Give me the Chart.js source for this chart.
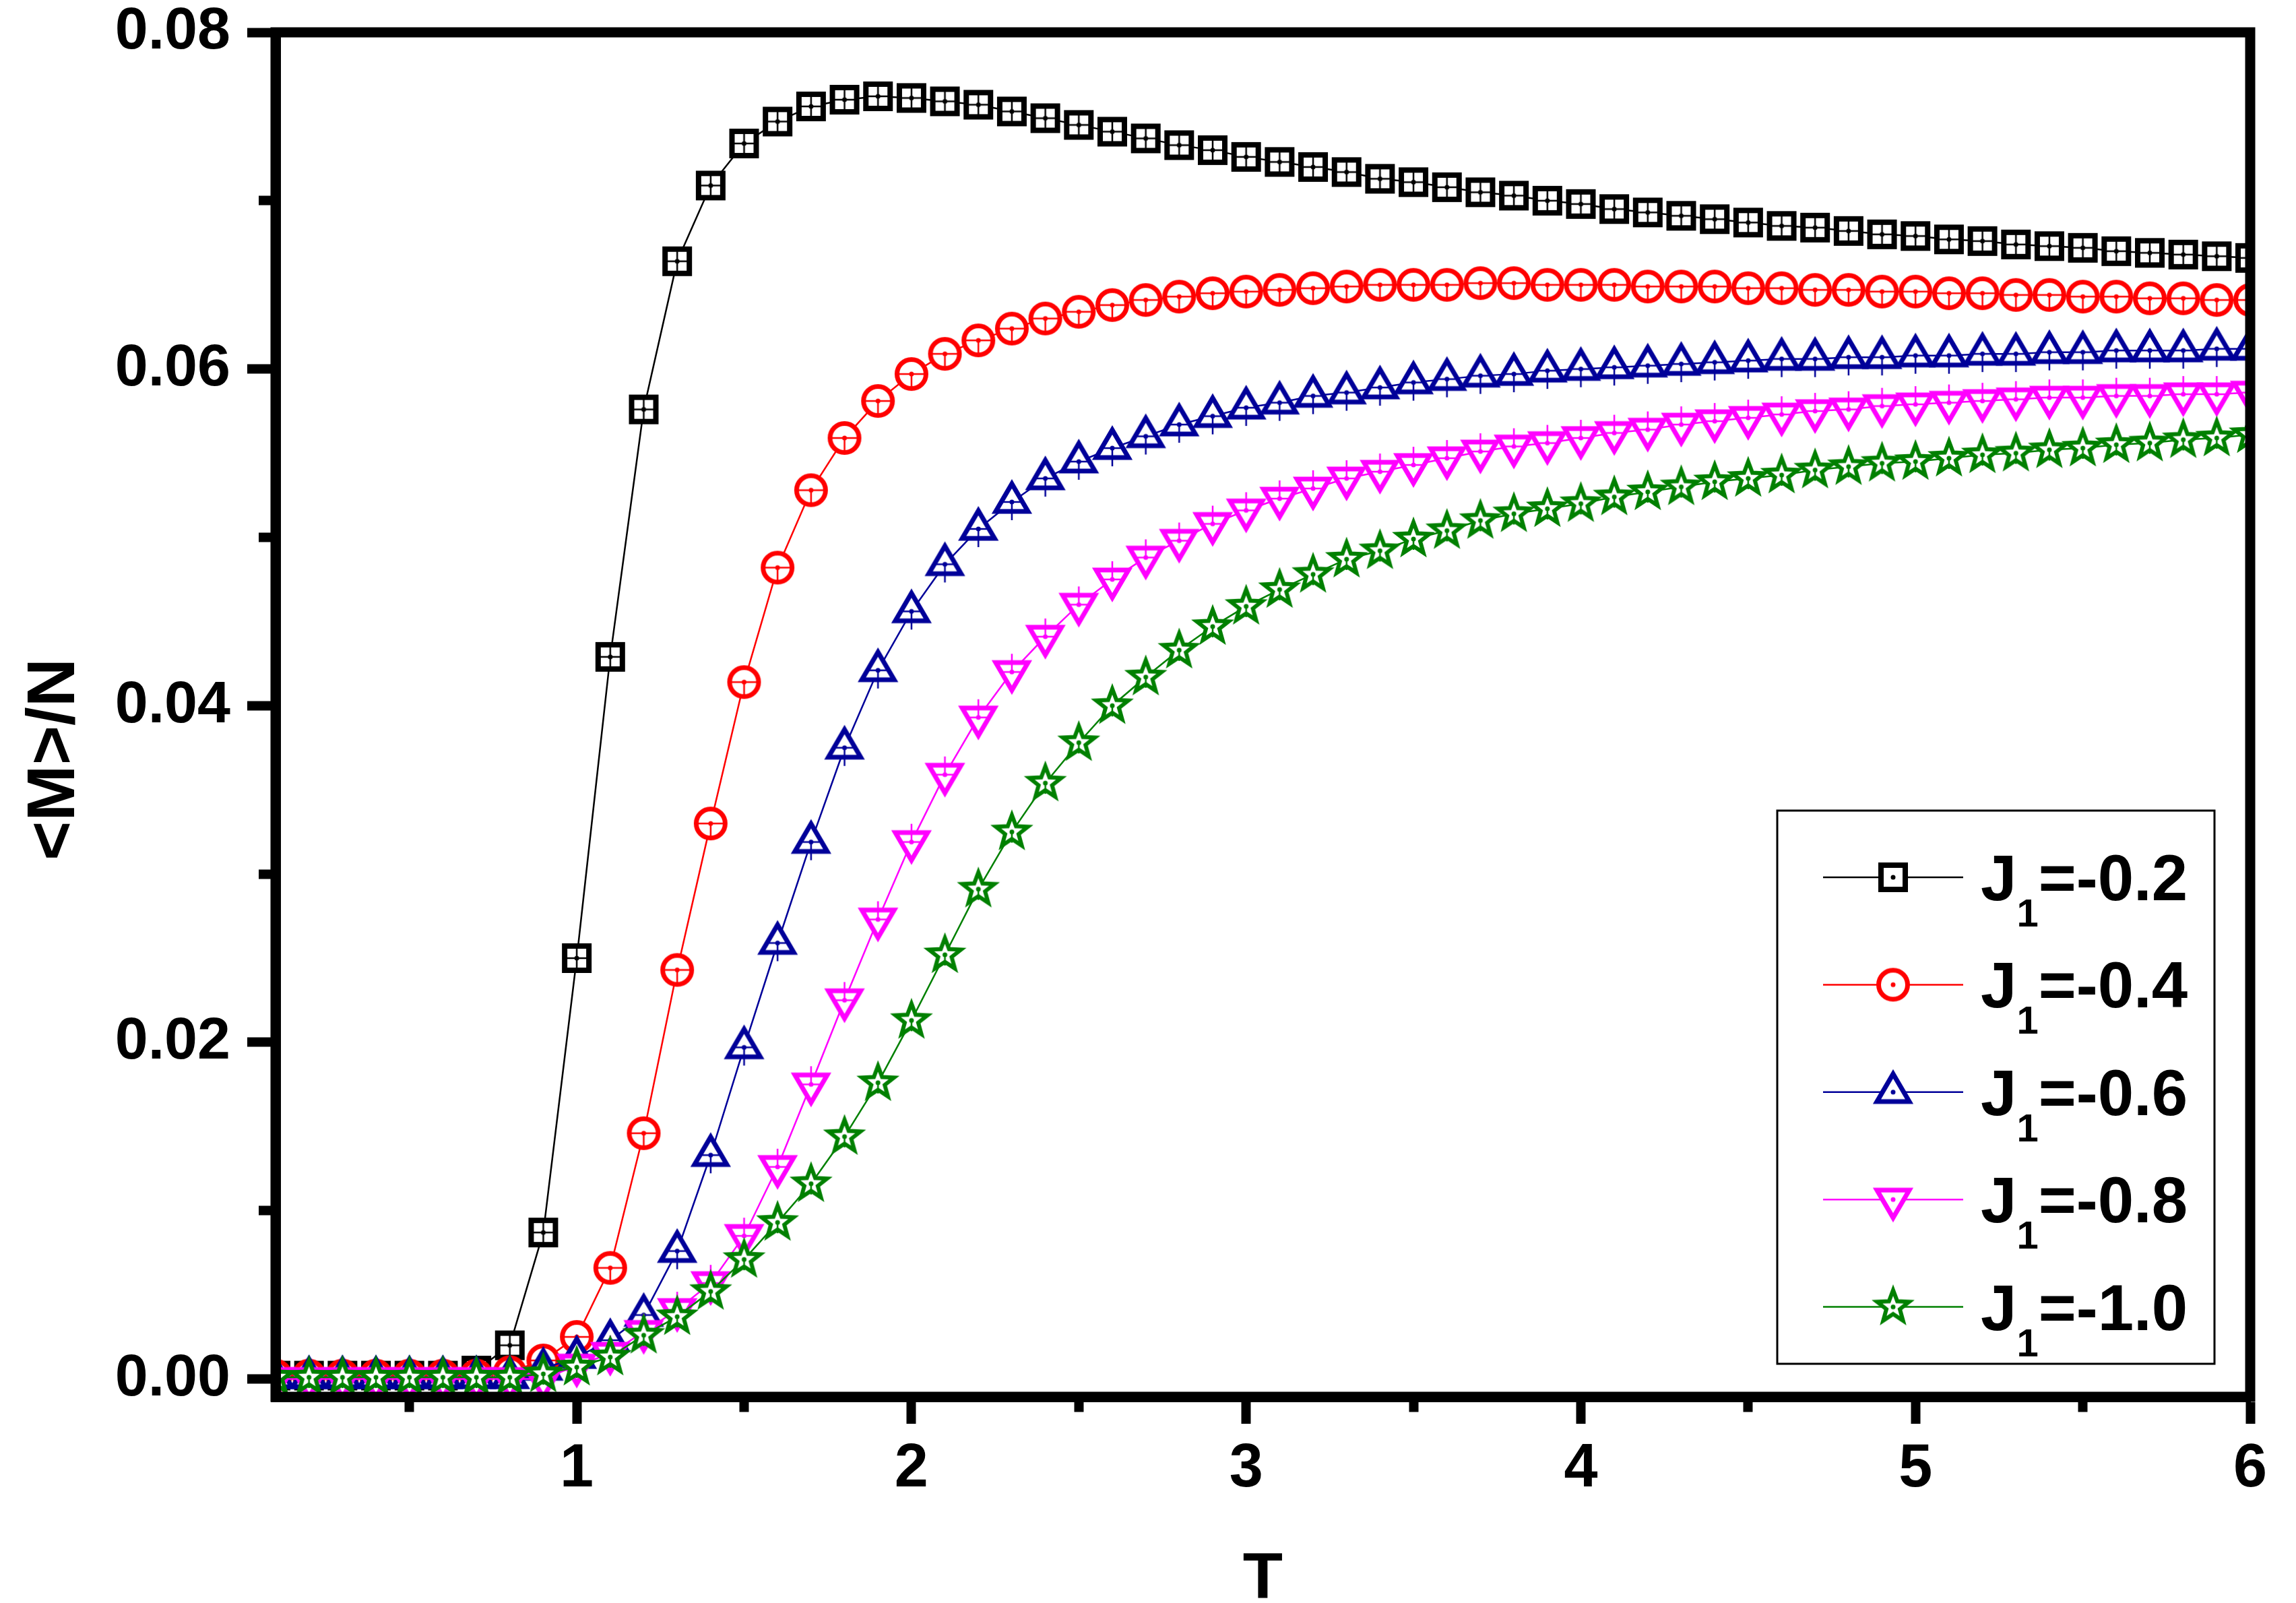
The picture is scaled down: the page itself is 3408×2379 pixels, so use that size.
<!DOCTYPE html>
<html>
<head>
<meta charset="utf-8">
<script src="https://cdn.jsdelivr.net/npm/chart.js@4.4.1/dist/chart.umd.min.js"></script>
<style>
  html, body { margin: 0; padding: 0; background: #fff; }
  #chart { display: block; width: 3408px; height: 2379px; }
</style>
</head>
<body>
<canvas id="chart" width="3408" height="2379"></canvas>
<script>
// Temperature T (x axis)
const temps = [0.1, 0.2, 0.3, 0.4, 0.5, 0.6, 0.7, 0.8, 0.9, 1.0,
    1.1, 1.2, 1.3, 1.4, 1.5, 1.6, 1.7, 1.8, 1.9, 2.0,
    2.1, 2.2, 2.3, 2.4, 2.5, 2.6, 2.7, 2.8, 2.9, 3.0,
    3.1, 3.2, 3.3, 3.4, 3.5, 3.6, 3.7, 3.8, 3.9, 4.0,
    4.1, 4.2, 4.3, 4.4, 4.5, 4.6, 4.7, 4.8, 4.9, 5.0,
    5.1, 5.2, 5.3, 5.4, 5.5, 5.6, 5.7, 5.8, 5.9, 6.0];

// <M>/N for each J1
const mJ02 = [0.0002, 0.0002, 0.0002, 0.0002, 0.0002, 0.0002, 0.0005, 0.0020, 0.0087, 0.0250,
    0.0429, 0.0576, 0.0664, 0.0709, 0.0734, 0.0747, 0.0756, 0.0760, 0.0762, 0.0761,
    0.0759, 0.0757, 0.0753, 0.0749, 0.0745, 0.0741, 0.0737, 0.0733, 0.0730, 0.0726,
    0.0723, 0.0720, 0.0717, 0.0713, 0.0711, 0.0708, 0.0705, 0.0703, 0.0700, 0.0698,
    0.0695, 0.0693, 0.0691, 0.0689, 0.0687, 0.0685, 0.0684, 0.0682, 0.0680, 0.0679,
    0.0677, 0.0676, 0.0674, 0.0673, 0.0672, 0.0670, 0.0669, 0.0668, 0.0667, 0.0666];

const mJ04 = [0.0002, 0.0002, 0.0002, 0.0002, 0.0002, 0.0002, 0.0002, 0.0004, 0.0011, 0.0025,
    0.0066, 0.0146, 0.0243, 0.0330, 0.0414, 0.0482, 0.0528, 0.0559, 0.0581, 0.0597,
    0.0609, 0.0617, 0.0624, 0.0630, 0.0634, 0.0638, 0.0641, 0.0643, 0.0645, 0.0646,
    0.0647, 0.0648, 0.0649, 0.0650, 0.0650, 0.0650, 0.0651, 0.0651, 0.0650, 0.0650,
    0.0650, 0.0649, 0.0649, 0.0649, 0.0648, 0.0648, 0.0647, 0.0647, 0.0646, 0.0646,
    0.0645, 0.0645, 0.0644, 0.0644, 0.0643, 0.0643, 0.0642, 0.0642, 0.0641, 0.0641];

const mJ06 = [0.0001, 0.0001, 0.0001, 0.0001, 0.0001, 0.0001, 0.0001, 0.0001, 0.0006, 0.0013,
    0.0023, 0.0038, 0.0076, 0.0133, 0.0197, 0.0259, 0.0319, 0.0375, 0.0421, 0.0456,
    0.0484, 0.0505, 0.0521, 0.0535, 0.0545, 0.0553, 0.0560, 0.0567, 0.0572, 0.0577,
    0.0580, 0.0584, 0.0586, 0.0589, 0.0592, 0.0594, 0.0596, 0.0597, 0.0599, 0.0600,
    0.0601, 0.0602, 0.0603, 0.0604, 0.0605, 0.0606, 0.0606, 0.0607, 0.0607, 0.0608,
    0.0608, 0.0609, 0.0609, 0.0610, 0.0610, 0.0611, 0.0611, 0.0611, 0.0612, 0.0612];

const mJ08 = [0.0000, 0.0000, 0.0000, 0.0000, 0.0000, 0.0000, 0.0000, 0.0000, 0.0000, 0.0008,
    0.0015, 0.0028, 0.0041, 0.0057, 0.0085, 0.0126, 0.0175, 0.0225, 0.0273, 0.0319,
    0.0359, 0.0393, 0.0420, 0.0441, 0.0460, 0.0475, 0.0488, 0.0498, 0.0508, 0.0516,
    0.0523, 0.0529, 0.0535, 0.0539, 0.0543, 0.0547, 0.0551, 0.0554, 0.0556, 0.0559,
    0.0562, 0.0564, 0.0567, 0.0569, 0.0571, 0.0573, 0.0575, 0.0576, 0.0578, 0.0579,
    0.0580, 0.0581, 0.0582, 0.0583, 0.0583, 0.0584, 0.0584, 0.0585, 0.0585, 0.0586];

const mJ10 = [0.0001, 0.0001, 0.0001, 0.0001, 0.0001, 0.0001, 0.0001, 0.0001, 0.0003, 0.0007,
    0.0013, 0.0026, 0.0037, 0.0052, 0.0071, 0.0093, 0.0116, 0.0144, 0.0176, 0.0213,
    0.0252, 0.0291, 0.0325, 0.0354, 0.0378, 0.0400, 0.0417, 0.0433, 0.0447, 0.0459,
    0.0469, 0.0478, 0.0487, 0.0492, 0.0499, 0.0504, 0.0510, 0.0514, 0.0517, 0.0520,
    0.0524, 0.0527, 0.0530, 0.0533, 0.0535, 0.0537, 0.0540, 0.0542, 0.0544, 0.0545,
    0.0547, 0.0549, 0.0550, 0.0552, 0.0553, 0.0555, 0.0556, 0.0558, 0.0559, 0.0561];

const j1Values = ["-0.2", "-0.4", "-0.6", "-0.8", "-1.0"];
const seriesData = [mJ02, mJ04, mJ06, mJ08, mJ10];
const seriesColors = ["#000000", "#ff0000", "#000099", "#ff00ff", "#008000"];
const seriesShapes = ["square", "circle", "up", "down", "star"];

// tick positions
const xTicks = [0.5, 1, 1.5, 2, 2.5, 3, 3.5, 4, 4.5, 5, 5.5, 6];
const yTicks = [0, 0.01, 0.02, 0.03, 0.04, 0.05, 0.06, 0.07, 0.08];

const FONT = "'Liberation Sans', Arial, sans-serif";
Chart.defaults.font.family = FONT;
Chart.defaults.color = "#000";

// marker pictures (Origin style: hollow shape, centre dot)
function makeMarker(shape, color, bars) {
    const S = 84;
    const c = document.createElement("canvas");
    c.width = S; c.height = S;
    const g = c.getContext("2d");
    g.translate(S / 2, S / 2);
    g.strokeStyle = color;
    g.fillStyle = "#fff";
    g.lineJoin = "miter";
    g.beginPath();
    if (shape === "square") {
        g.lineWidth = 8;
        g.rect(-18, -18, 36, 36);
    } else if (shape === "circle") {
        g.lineWidth = 7;
        g.arc(0, 0, 21.5, 0, Math.PI * 2);
    } else if (shape === "up") {
        g.lineWidth = 7;
        g.moveTo(0, -27); g.lineTo(24, 14); g.lineTo(-24, 14); g.closePath();
    } else if (shape === "down") {
        g.lineWidth = 7;
        g.moveTo(0, 27); g.lineTo(24, -14); g.lineTo(-24, -14); g.closePath();
    } else {
        g.lineWidth = 6;
        for (let k = 0; k < 10; k++) {
            const r = k % 2 ? 10.5 : 25;
            const a = -Math.PI / 2 + k * Math.PI / 5;
            g.lineTo(r * Math.cos(a), r * Math.sin(a));
        }
        g.closePath();
    }
    g.fill();
    g.stroke();

    if (bars) {
        g.lineWidth = 2.5;
        g.beginPath();
        if (shape === "square") {
            g.moveTo(-18, 0); g.lineTo(18, 0);
            g.moveTo(0, -18); g.lineTo(0, 18);
        } else if (shape === "circle") {
            g.moveTo(-22, 0); g.lineTo(22, 0);
            g.moveTo(0, 0); g.lineTo(0, 22);
        } else if (shape === "up") {
            g.moveTo(-15, 0); g.lineTo(15, 0);
            g.moveTo(0, 0); g.lineTo(0, 27);
        } else if (shape === "down") {
            g.moveTo(-15, 0); g.lineTo(15, 0);
            g.moveTo(0, 0); g.lineTo(0, -27);
        } else {
            g.moveTo(0, 0); g.lineTo(0, 16);
        }
        g.stroke();
    }
    g.fillStyle = color;
    g.beginPath();
    g.arc(0, 0, 3.5, 0, Math.PI * 2);
    g.fill();
    return c;
}

const plotMarkers = seriesShapes.map((s, i) => makeMarker(s, seriesColors[i], true));
const legendMarkers = seriesShapes.map((s, i) => makeMarker(s, seriesColors[i], false));

// frame, legend box and axis titles
const decorPlugin = {
    id: "decor",
    afterDraw(chart) {
        const ctx = chart.ctx;
        const a = chart.chartArea;
        ctx.save();
        ctx.strokeStyle = "#000";
        ctx.lineWidth = 15;
        ctx.lineJoin = "miter";
        ctx.strokeRect(a.left, a.top, a.right - a.left, a.bottom - a.top);

        // legend
        const bx = 2638, by = 1203, bw = 649, bh = 821;
        ctx.fillStyle = "#fff";
        ctx.fillRect(bx, by, bw, bh);
        ctx.lineWidth = 3;
        ctx.strokeRect(bx, by, bw, bh);
        j1Values.forEach((v, i) => {
            const yy = 1302 + i * 159.4;
            ctx.strokeStyle = seriesColors[i];
            ctx.lineWidth = 2.5;
            ctx.beginPath();
            ctx.moveTo(2706, yy);
            ctx.lineTo(2914, yy);
            ctx.stroke();
            const m = legendMarkers[i];
            ctx.drawImage(m, 2810 - m.width / 2, yy - m.height / 2);
            ctx.fillStyle = "#000";
            ctx.textAlign = "left";
            ctx.textBaseline = "alphabetic";
            ctx.font = "bold 96px " + FONT;
            ctx.fillText("J", 2940, yy + 34);
            const wJ = ctx.measureText("J").width;
            ctx.font = "bold 58px " + FONT;
            ctx.fillText("1", 2940 + wJ, yy + 73);
            const w1 = ctx.measureText("1").width;
            ctx.font = "bold 96px " + FONT;
            ctx.fillText("=" + v, 2940 + wJ + w1, yy + 34);
        });

        // axis titles
        ctx.fillStyle = "#000";
        ctx.font = "bold 97px " + FONT;
        ctx.textAlign = "center";
        ctx.textBaseline = "alphabetic";
        ctx.fillText("T", (a.left + a.right) / 2, 2372);
        ctx.translate(110, 1127);
        ctx.rotate(-Math.PI / 2);
        ctx.font = "bold 100px " + FONT;
        ctx.fillText("<M>/N", 0, 0);
        ctx.restore();
    }
};

const datasets = seriesData.map((vals, i) => ({
    label: "J\u2081=" + j1Values[i],
    data: temps.map((t, k) => ({ x: t, y: vals[k] })),
    borderColor: seriesColors[i],
    backgroundColor: seriesColors[i],
    borderWidth: 2.5,
    tension: 0,
    pointStyle: plotMarkers[i],
    pointRadius: 25,
    pointHoverRadius: 25,
    clip: 0,
    order: 5 - i
}));

new Chart(document.getElementById("chart"), {
    type: "line",
    data: { datasets: datasets },
    options: {
        responsive: false,
        devicePixelRatio: 1,
        animation: false,
        events: [],
        layout: { padding: { top: 48, right: 68, left: 0, bottom: 0 } },
        plugins: {
            legend: { display: false },
            tooltip: { enabled: false },
            title: { display: false }
        },
        scales: {
            x: {
                type: "linear",
                min: 0.1,
                max: 6,
                afterFit: s => { s.height = 306; s.paddingLeft = 0; s.paddingRight = 0; },
                afterBuildTicks: s => { s.ticks = xTicks.map(v => ({ value: v })); },
                border: { display: true, width: 15, color: "#000", z: 1 },
                grid: {
                    drawOnChartArea: false,
                    drawTicks: true,
                    tickLength: 40,
                    tickWidth: 14,
                    tickColor: "#000",
                    tickBorderDash: c => (Number.isInteger(c.tick.value) ? [] : [14.5, 200])
                },
                ticks: {
                    autoSkip: false,
                    maxRotation: 0,
                    padding: 14,
                    font: { size: 90, weight: "bold" },
                    callback: v => (Number.isInteger(v) ? String(v) : "")
                }
            },
            y: {
                type: "linear",
                min: -0.00106,
                max: 0.08,
                afterFit: s => { s.width = 409; s.paddingTop = 0; s.paddingBottom = 0; },
                afterBuildTicks: s => { s.ticks = yTicks.map(v => ({ value: v })); },
                border: { display: true, width: 15, color: "#000", z: 1 },
                grid: {
                    drawOnChartArea: false,
                    drawTicks: true,
                    tickLength: 42,
                    tickWidth: 14,
                    tickColor: "#000",
                    tickBorderDash: c => (c.index % 2 === 0 ? [] : [0, 17, 18, 200])
                },
                ticks: {
                    autoSkip: false,
                    padding: 25,
                    font: { size: 88, weight: "bold" },
                    callback: (v, i) => (i % 2 === 0 ? v.toFixed(2) : "")
                }
            }
        }
    },
    plugins: [decorPlugin]
});
</script>
</body>
</html>
